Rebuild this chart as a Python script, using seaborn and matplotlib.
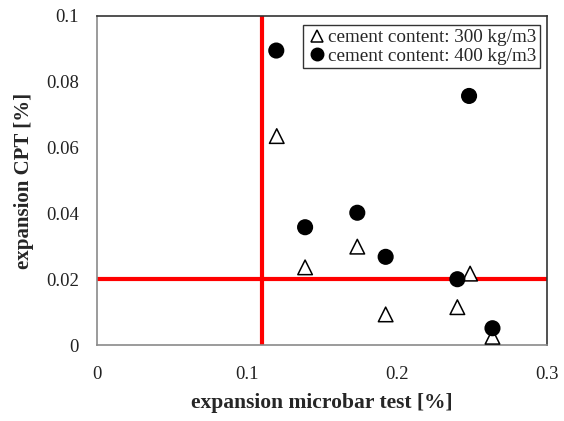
import matplotlib
matplotlib.use("Agg")
import matplotlib.pyplot as plt
import seaborn as sns
import pandas as pd

x_300 = [0.1198, 0.1387, 0.1735, 0.1924, 0.2402, 0.2487, 0.2636]
y_300 = [0.0635, 0.0236, 0.0299, 0.0093, 0.0115, 0.0217, 0.0025]
x_400 = [0.1195, 0.1387, 0.1735, 0.1924, 0.2402, 0.2480, 0.2636]
y_400 = [0.0895, 0.0358, 0.0402, 0.0268, 0.0200, 0.0757, 0.0051]
labels = ["cement content: 300 kg/m3", "cement content: 400 kg/m3"]
x_limit = 0.11
y_limit = 0.02
x_ticks = [0, 0.1, 0.2, 0.3]
y_ticks = [0, 0.02, 0.04, 0.06, 0.08, 0.1]
x_tick_labels = ["0", "0.1", "0.2", "0.3"]
y_tick_labels = ["0", "0.02", "0.04", "0.06", "0.08", "0.1"]

df = pd.DataFrame({
    "x": x_300 + x_400,
    "y": y_300 + y_400,
    "group": [labels[0]] * len(x_300) + [labels[1]] * len(x_400),
})

sns.set_style("white")
plt.rcParams["font.family"] = ["Liberation Serif", "DejaVu Serif"]

fig = plt.figure(figsize=(5.64, 4.21), dpi=100)
ax = fig.add_axes([0.172, 0.1805, 0.798, 0.7815])

ax.axvline(x_limit, color="#ff0000", lw=3, zorder=1)
ax.axhline(y_limit, color="#ff0000", lw=3, zorder=1)

sns.scatterplot(data=df, x="x", y="y", hue="group", style="group",
                palette={labels[0]: "white", labels[1]: "black"},
                markers={labels[0]: "^", labels[1]: "o"},
                s=110, edgecolor="black", linewidth=1.1, ax=ax, zorder=3)

ax.set_xlim(0, 0.3)
ax.set_ylim(0, 0.1)
ax.set_xticks(x_ticks)
ax.set_xticklabels(x_tick_labels)
ax.set_yticks(y_ticks)
ax.set_yticklabels(y_tick_labels)
ax.tick_params(axis="both", labelsize=13.5, direction="out", length=4,
               width=1, color="#888888", colors="#222222", pad=9)
ax.tick_params(axis="x", pad=11)
ax.set_xlabel("expansion microbar test [%]", fontsize=15.5, fontweight="bold", labelpad=7)
ax.set_ylabel("expansion CPT [%]", fontsize=15, fontweight="bold", labelpad=9)

for side in ["left", "bottom"]:
    ax.spines[side].set_color("#8a8a8a")
    ax.spines[side].set_linewidth(1.2)
for side in ["top", "right"]:
    ax.spines[side].set_color("#333333")
    ax.spines[side].set_linewidth(1.2)

leg = ax.legend(loc="upper right", bbox_to_anchor=(0.997, 0.99), fontsize=13.8,
                frameon=True, fancybox=False, edgecolor="black",
                handletextpad=0.0, borderpad=0.2, labelspacing=0.05,
                handlelength=1.1, borderaxespad=0.3, markerscale=0.85)
leg.get_frame().set_linewidth(1.0)

fig.savefig("out.png", dpi=100)
